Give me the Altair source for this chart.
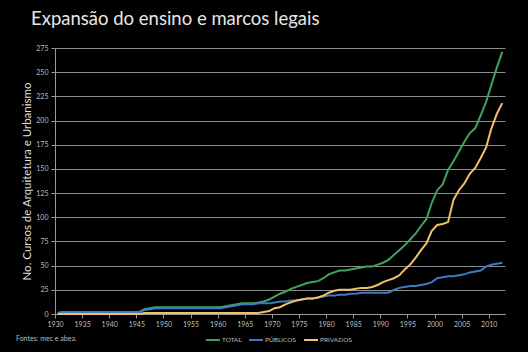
import altair as alt
import pandas as pd

years = list(range(1930, 2013))

series_names = ["TOTAL", "PÚBLICOS", "PRIVADOS"]
series_colors = ["#3FA35F", "#3F7BC4", "#EFC26A"]

total = (
    [1, 2, 2, 2, 2, 2, 2, 2, 2, 2]
    + [2, 2, 2, 2, 2, 2, 5, 6, 7, 7]
    + [7, 7, 7, 7, 7, 7, 7, 7, 7, 7]
    + [7, 8, 9, 10, 11, 11, 11, 12, 13, 15]
    + [18, 21, 23, 26, 28, 30, 32, 33, 34, 37]
    + [41, 43, 45, 45, 46, 47, 48, 49, 49, 51]
    + [53, 56, 61, 66, 71, 77, 83, 91, 98, 115]
    + [128, 134, 149, 158, 168, 178, 187, 192, 205, 219]
    + [237, 255, 271]
)

publicos = (
    [1, 2, 2, 2, 2, 2, 2, 2, 2, 2]
    + [2, 2, 2, 2, 2, 2, 4, 5, 6, 6]
    + [6, 6, 6, 6, 6, 6, 6, 6, 6, 6]
    + [6, 7, 8, 9, 10, 10, 10, 11, 11, 11]
    + [12, 13, 13, 14, 14, 15, 16, 16, 17, 18]
    + [19, 19, 20, 20, 21, 21, 22, 22, 22, 22]
    + [22, 22, 25, 27, 28, 29, 29, 30, 31, 33]
    + [37, 38, 39, 39, 40, 41, 43, 44, 45, 49]
    + [51, 52, 53]
)

privados = (
    [0, 0, 0, 0, 0, 0, 0, 0, 0, 0]
    + [0, 0, 0, 0, 0, 0, 1, 1, 1, 1]
    + [1, 1, 1, 1, 1, 1, 1, 1, 1, 1]
    + [1, 1, 1, 1, 1, 1, 1, 1, 2, 3]
    + [6, 7, 10, 12, 14, 15, 16, 16, 17, 19]
    + [22, 24, 25, 25, 25, 26, 27, 27, 28, 30]
    + [33, 35, 37, 40, 46, 51, 58, 66, 73, 86]
    + [92, 93, 95, 118, 128, 135, 145, 151, 161, 172]
    + [192, 207, 218]
)

x_ticks = list(range(1930, 2011, 5))
y_ticks = list(range(0, 276, 25))

title_text = "Expansão do ensino e marcos legais"
y_title = "No. Cursos de Arquitetura e Urbanismo"
source_text = ["Fontes: mec e abea."]

rows = []
for name, vals in zip(series_names, [total, publicos, privados]):
    for yr, v in zip(years, vals):
        rows.append({"ano": yr, "cursos": v, "serie": name})
df = pd.DataFrame(rows)

FONT = "Lato"
GRAY = "#bfbfbf"

lines = alt.Chart(df).mark_line(strokeWidth=2).encode(
    x=alt.X(
        "ano:Q",
        scale=alt.Scale(domain=[1929.5, 2012.5], nice=False, zero=False),
        axis=alt.Axis(
            values=x_ticks, format="d", title=None, grid=False,
            labelFontSize=7, labelColor=GRAY, labelFont=FONT,
            domainColor="#9a9a9a", tickColor="#9a9a9a", tickSize=4,
            tickOffset=-2.7, labelPadding=2,
        ),
    ),
    y=alt.Y(
        "cursos:Q",
        scale=alt.Scale(domain=[0, 275], nice=False),
        axis=alt.Axis(
            values=y_ticks, title=y_title, grid=True,
            gridColor="#8c8c8c", gridWidth=1.2,
            labelFontSize=7, labelColor=GRAY, labelFont=FONT,
            domainColor="#9a9a9a", tickColor="#9a9a9a", tickSize=4,
            labelPadding=3,
            titleFont=FONT, titleFontSize=11.5, titleFontWeight="normal",
            titleColor="#dedede", titlePadding=3,
        ),
    ),
    color=alt.Color(
        "serie:N",
        scale=alt.Scale(domain=series_names, range=series_colors),
        sort=series_names,
        legend=alt.Legend(
            title=None, orient="none", direction="horizontal",
            legendX=150, legendY=284,
            symbolType="stroke", symbolSize=196, symbolStrokeWidth=2,
            labelFontSize=6.5, labelColor=GRAY, labelFont=FONT,
            columnPadding=3, labelOffset=1,
        ),
    ),
)

src = alt.Chart(pd.DataFrame({"t": source_text})).mark_text(
    align="left", baseline="middle", fontSize=7, color=GRAY, font=FONT
).encode(x=alt.value(-39), y=alt.value(291), text="t:N")

chart = (
    alt.layer(lines, src)
    .properties(
        width=450,
        height=266,
        autosize=alt.AutoSizeParams(type="none"),
        padding={"left": 55, "top": 48, "right": 23, "bottom": 38},
        background="black",
        title=alt.TitleParams(
            title_text, anchor="start", frame="group", dx=-24, fontSize=18.5,
            font=FONT, fontWeight="normal", color="#e6e6e6",
            baseline="alphabetic", offset=1,
        ),
    )
    .configure_view(stroke=None)
)

chart.save("out.html", embed_options={"renderer": "svg", "actions": False})
